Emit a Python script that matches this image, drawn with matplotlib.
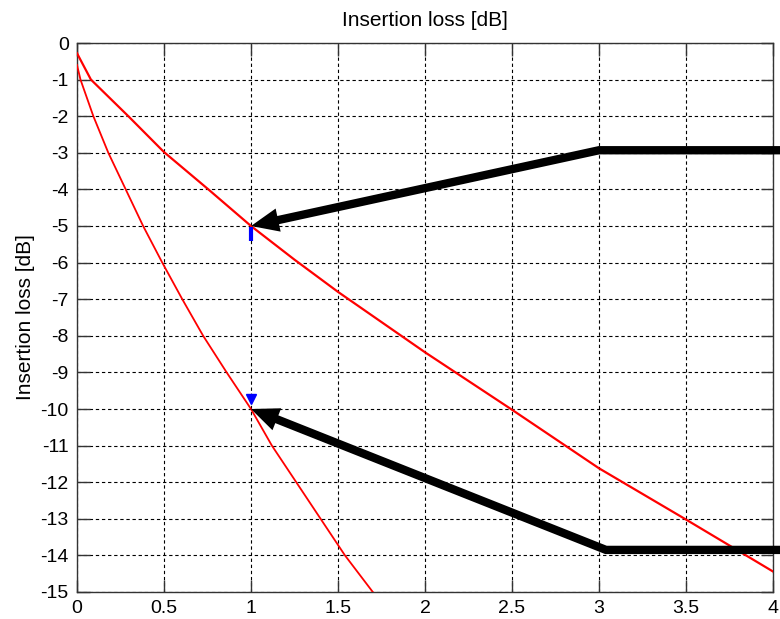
import matplotlib
matplotlib.use("Agg")
import matplotlib.pyplot as plt

# ---- data ----
x_line1 = [0.0, 0.08, 0.295, 0.5, 0.755, 1.0, 1.25, 1.5, 2.0, 2.5, 3.0, 3.5, 4.0]
y_line1 = [-0.28, -1.0, -2.0, -2.98, -4.0, -5.0, -5.92, -6.8, -8.45, -10.02, -11.62, -13.02, -14.44]

x_line2 = [0.0, 0.02, 0.094, 0.18, 0.28, 0.38, 0.49, 0.605, 0.725, 0.86, 1.0, 1.12, 1.26, 1.40, 1.54, 1.70]
y_line2 = [-0.6, -1.0, -2.0, -3.0, -4.0, -5.0, -6.0, -7.0, -8.0, -9.0, -10.0, -11.0, -12.0, -13.0, -14.0, -15.0]

marker_x = [1.0, 1.0]
marker_y_top = [-5.03, -5.4]
marker_v = (1.0, -9.72)

arrow1_path_x = [4.1, 3.0, 1.0]
arrow1_path_y = [-2.93, -2.93, -5.0]
arrow2_path_x = [4.1, 3.04, 1.0]
arrow2_path_y = [-13.85, -13.85, -10.0]

xticks = [0, 0.5, 1, 1.5, 2, 2.5, 3, 3.5, 4]
xticklabels = ["0", "0.5", "1", "1.5", "2", "2.5", "3", "3.5", "4"]
yticks = list(range(-15, 1))
yticklabels = [str(v) for v in yticks]

title = "Insertion loss [dB]"
ylabel = "Insertion loss [dB]"

plt.rcParams['font.family'] = ['Liberation Sans', 'DejaVu Sans']
plt.rcParams['axes.unicode_minus'] = False

fig = plt.figure(figsize=(7.8, 6.19), dpi=100)
ax = fig.add_axes([77/780, 1-592/619, (773-77)/780, (592-43)/619])

ax.set_xlim(0, 4)
ax.set_ylim(-15, 0)
ax.set_xticks(xticks)
ax.set_xticklabels(xticklabels)
ax.set_yticks(yticks)
ax.set_yticklabels(yticklabels)
ax.tick_params(direction='in', length=9, width=1, labelsize=14, color='#333333',
               top=True, right=True, pad=6)
for s in ax.spines.values():
    s.set_color('#333333')
    s.set_linewidth(1.0)

ax.grid(True, color='black', linestyle=(0, (3, 2.5)), linewidth=0.8)
ax.set_axisbelow(True)

ax.plot(x_line1, y_line1, color='#ff0000', lw=1.6, zorder=3)
ax.plot(x_line2, y_line2, color='#ff0000', lw=1.3, zorder=3)

ax.plot(marker_x, marker_y_top, color='#0000ff', lw=3, zorder=4, solid_capstyle='butt')
ax.plot([marker_v[0]], [marker_v[1]], marker='v', color='#0000ff', markersize=7, zorder=4)

for px, py in ((arrow1_path_x, arrow1_path_y), (arrow2_path_x, arrow2_path_y)):
    x0, y0 = px[-2], py[-2]
    x1, y1 = px[-1], py[-1]
    f = 0.96
    sx = x0 + (x1 - x0) * f
    sy = y0 + (y1 - y0) * f
    ax.plot(px[:-1] + [sx], py[:-1] + [sy], color='black', lw=6, clip_on=False,
            solid_joinstyle='miter', solid_capstyle='butt', zorder=5)
    ax.annotate('', xy=(x1, y1), xytext=(x0, y0),
                arrowprops=dict(arrowstyle='-|>,head_length=2.0,head_width=0.85',
                                lw=0, color='black', shrinkA=0, shrinkB=0),
                annotation_clip=False, zorder=6)

ax.set_title(title, fontsize=15, pad=12)
ax.set_ylabel(ylabel, fontsize=15, labelpad=4)

fig.savefig("out.png", dpi=100)
